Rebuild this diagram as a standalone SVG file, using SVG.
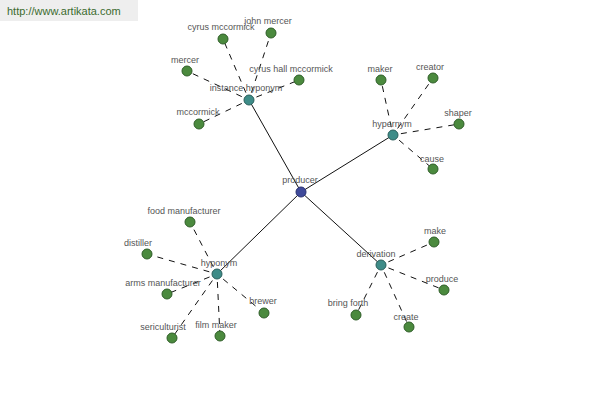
<svg xmlns="http://www.w3.org/2000/svg" width="600" height="400" viewBox="0 0 600 400">
<style>
text{font-family:"Liberation Sans",Arial,sans-serif;font-size:9px;fill:#555;text-anchor:middle}
.solid{stroke:#111;stroke-width:1;fill:none}
.dash{stroke:#111;stroke-width:1;stroke-dasharray:6,6;stroke-dashoffset:-8;fill:none}
.leaf{fill:#4b8a3e;stroke:#2f5e28;stroke-width:1}
.hub{fill:#3e8c88;stroke:#2a5f5c;stroke-width:1}
.root{fill:#3f4a9a;stroke:#283070;stroke-width:1}
.wm{font-size:11px;fill:#3b6b2e;text-anchor:start}
</style>
<rect x="0" y="0" width="138" height="21" fill="#eeeeee"/>
<text class="wm" x="7" y="15">http://www.artikata.com</text>
<g id="connectors">
<line class="solid" x1="301" y1="192" x2="249" y2="100"/>
<line class="solid" x1="301" y1="192" x2="393" y2="135"/>
<line class="solid" x1="301" y1="192" x2="217" y2="274"/>
<line class="solid" x1="301" y1="192" x2="381" y2="265"/>
<line class="dash" x1="249" y1="100" x2="223" y2="39"/>
<line class="dash" x1="249" y1="100" x2="271" y2="33"/>
<line class="dash" x1="249" y1="100" x2="187" y2="71"/>
<line class="dash" x1="249" y1="100" x2="299" y2="80"/>
<line class="dash" x1="249" y1="100" x2="199" y2="124"/>
<line class="dash" x1="393" y1="135" x2="381" y2="80"/>
<line class="dash" x1="393" y1="135" x2="433" y2="78"/>
<line class="dash" x1="393" y1="135" x2="459" y2="124"/>
<line class="dash" x1="393" y1="135" x2="433" y2="169"/>
<line class="dash" x1="217" y1="274" x2="190" y2="222"/>
<line class="dash" x1="217" y1="274" x2="147" y2="254"/>
<line class="dash" x1="217" y1="274" x2="167" y2="294"/>
<line class="dash" x1="217" y1="274" x2="264" y2="313"/>
<line class="dash" x1="217" y1="274" x2="172" y2="338"/>
<line class="dash" x1="217" y1="274" x2="220" y2="336"/>
<line class="dash" x1="381" y1="265" x2="434" y2="242"/>
<line class="dash" x1="381" y1="265" x2="444" y2="290"/>
<line class="dash" x1="381" y1="265" x2="356" y2="315"/>
<line class="dash" x1="381" y1="265" x2="409" y2="327"/>
</g>
<g id="producer"><circle class="root" cx="301" cy="192" r="5"/><text x="300" y="183">producer</text></g>
<g id="instance-hyponym"><circle class="hub" cx="249" cy="100" r="5"/><text x="246" y="91">instance hyponym</text></g>
<g id="hypernym"><circle class="hub" cx="393" cy="135" r="5"/><text x="392" y="127">hypernym</text></g>
<g id="hyponym"><circle class="hub" cx="217" cy="274" r="5"/><text x="219" y="266">hyponym</text></g>
<g id="derivation"><circle class="hub" cx="381" cy="265" r="5"/><text x="376" y="257">derivation</text></g>
<g id="cyrus-mccormick"><circle class="leaf" cx="223" cy="39" r="5"/><text x="221" y="30">cyrus mccormick</text></g>
<g id="john-mercer"><circle class="leaf" cx="271" cy="33" r="5"/><text x="268" y="24">john mercer</text></g>
<g id="mercer"><circle class="leaf" cx="187" cy="71" r="5"/><text x="185" y="63">mercer</text></g>
<g id="cyrus-hall-mccormick"><circle class="leaf" cx="299" cy="80" r="5"/><text x="291" y="72">cyrus hall mccormick</text></g>
<g id="mccormick"><circle class="leaf" cx="199" cy="124" r="5"/><text x="198" y="115">mccormick</text></g>
<g id="maker"><circle class="leaf" cx="381" cy="80" r="5"/><text x="380" y="72">maker</text></g>
<g id="creator"><circle class="leaf" cx="433" cy="78" r="5"/><text x="430" y="70">creator</text></g>
<g id="shaper"><circle class="leaf" cx="459" cy="124" r="5"/><text x="458" y="116">shaper</text></g>
<g id="cause"><circle class="leaf" cx="433" cy="169" r="5"/><text x="432" y="162">cause</text></g>
<g id="food-manufacturer"><circle class="leaf" cx="190" cy="222" r="5"/><text x="184" y="214">food manufacturer</text></g>
<g id="distiller"><circle class="leaf" cx="147" cy="254" r="5"/><text x="138" y="246">distiller</text></g>
<g id="arms-manufacturer"><circle class="leaf" cx="167" cy="294" r="5"/><text x="163" y="286">arms manufacturer</text></g>
<g id="brewer"><circle class="leaf" cx="264" cy="313" r="5"/><text x="263" y="304">brewer</text></g>
<g id="sericulturist"><circle class="leaf" cx="172" cy="338" r="5"/><text x="163" y="330">sericulturist</text></g>
<g id="film-maker"><circle class="leaf" cx="220" cy="336" r="5"/><text x="216" y="328">film maker</text></g>
<g id="make"><circle class="leaf" cx="434" cy="242" r="5"/><text x="435" y="234">make</text></g>
<g id="produce"><circle class="leaf" cx="444" cy="290" r="5"/><text x="442" y="282">produce</text></g>
<g id="bring-forth"><circle class="leaf" cx="356" cy="315" r="5"/><text x="348" y="306">bring forth</text></g>
<g id="create"><circle class="leaf" cx="409" cy="327" r="5"/><text x="406" y="320">create</text></g>
</svg>
